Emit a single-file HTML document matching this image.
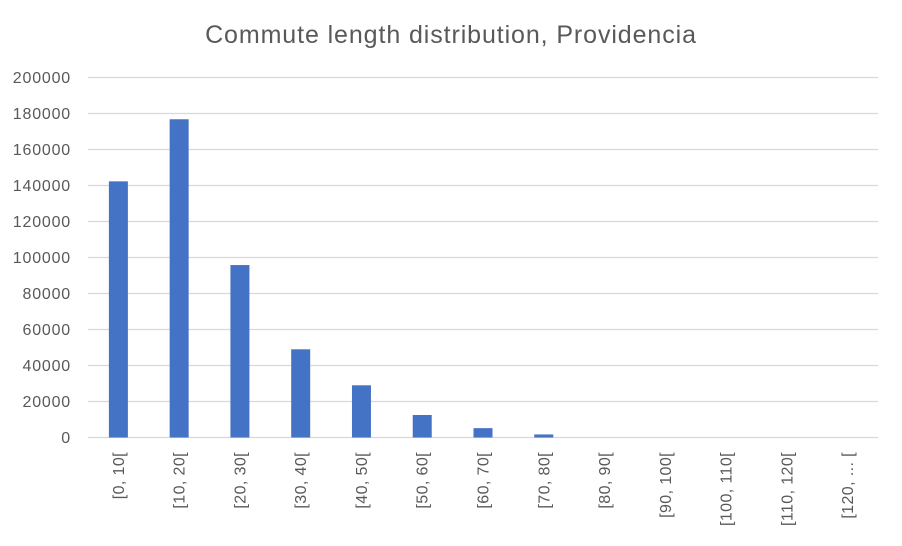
<!DOCTYPE html>
<html><head><meta charset="utf-8"><style>
body{margin:0;background:#fff;width:902px;height:541px;overflow:hidden;font-family:"Liberation Sans",sans-serif}
</style></head><body>
<svg id="chart" width="902" height="541" xmlns="http://www.w3.org/2000/svg">
<text x="451" y="43" text-anchor="middle" font-size="25" letter-spacing="0.9" fill="#595959" font-family="Liberation Sans, sans-serif">Commute length distribution, Providencia</text>
<g id="grid"></g><g id="bars"></g><g id="ylabels"></g><g id="xlabels"></g>
</svg>
<script>
const categories=["[0, 10[","[10, 20[","[20, 30[","[30, 40[","[40, 50[","[50, 60[","[60, 70[","[70, 80[","[80, 90[","[90, 100[","[100, 110[","[110, 120[","[120, ... ["];
const values=[142300,176800,95800,49000,29000,12500,5200,1700,0,0,0,0,0];
const yTicks=[0,20000,40000,60000,80000,100000,120000,140000,160000,180000,200000];
const NS="http://www.w3.org/2000/svg";
const x0=88,x1=878,yBase=437.5,yTop=77.5,yMax=200000;
const y=v=>yBase-(v/yMax)*(yBase-yTop);
const step=(x1-x0)/categories.length;
const xc=i=>x0+step*(i+0.5);
function mk(t,a,p){const e=document.createElementNS(NS,t);for(const k in a)e.setAttribute(k,a[k]);p.appendChild(e);return e;}
const grid=document.getElementById('grid'),bars=document.getElementById('bars'),yl=document.getElementById('ylabels'),xl=document.getElementById('xlabels');
yTicks.forEach(t=>{
 const l=mk('line',{x1:x0,x2:x1,y1:y(t),y2:y(t),stroke:'#d9d9d9','stroke-width':1.3},grid);
 
 
 const tx=mk('text',{x:71,y:y(t)+5.5,'text-anchor':'end','font-size':16,'letter-spacing':0.8,fill:'#595959'},yl);
 tx.textContent=t;
 
 
});
categories.forEach((c,i)=>{
 const h=yBase-y(values[i]);
 const r=mk('rect',{x:xc(i)-9.5,y:y(values[i]),width:19,height:h,fill:'#4472c4'},bars);
 
 
 const tx=mk('text',{transform:`translate(${xc(i)+5.5},452) rotate(-90)`,'text-anchor':'end','font-size':16,'letter-spacing':0.4,fill:'#595959'},xl);
 tx.textContent=c;
 
 
});
</script>
</body></html>
